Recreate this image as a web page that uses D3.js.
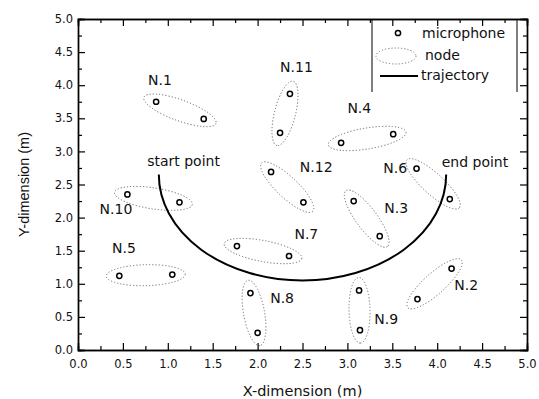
<!DOCTYPE html>
<html>
<head>
<meta charset="utf-8">
<script src="https://cdn.jsdelivr.net/npm/d3@7"></script>
<style>
  body { margin: 0; background: #fff; }
  svg { display: block; }
  .axis path, .axis line { stroke: #000; }
  .axis text { font-family: "DejaVu Sans", sans-serif; font-size: 11.5px; fill: #111; }
</style>
</head>
<body>
<svg id="chart" width="539" height="399"></svg>
<script>
// microphone pairs, one per node (x, y in metres)
var nodes = ['N.1', 'N.2', 'N.3', 'N.4', 'N.5', 'N.6', 'N.7', 'N.8', 'N.9', 'N.10', 'N.11', 'N.12'];
var micA = [[0.87, 3.75], [3.78, 0.77], [3.07, 2.25], [2.93, 3.13], [0.46, 1.12], [3.77, 2.74],
            [1.77, 1.57], [1.92, 0.86], [3.13, 0.90], [0.55, 2.35], [2.36, 3.87], [2.15, 2.69]];
var micB = [[1.40, 3.49], [4.16, 1.23], [3.36, 1.72], [3.51, 3.26], [1.05, 1.14], [4.14, 2.28],
            [2.35, 1.42], [2.00, 0.26], [3.14, 0.30], [1.13, 2.23], [2.25, 3.28], [2.51, 2.23]];
// where each node label sits (left edge, baseline)
var labelPos = [[0.78, 4.00], [4.19, 0.91], [3.41, 2.07], [3.00, 3.58], [0.38, 1.47], [3.40, 2.68],
                [2.41, 1.68], [2.14, 0.71], [3.30, 0.39], [0.24, 2.06], [2.25, 4.20], [2.47, 2.69]];

// trajectory: half circle from start to end
var trajStart = [0.90, 2.65];
var trajEnd = [4.10, 2.65];
var trajRadius = 1.6;
var pointNames = ['start point', 'end point'];
var pointLabelPos = [[0.77, 2.78], [4.05, 2.77]];

var majorTicks = [0, 0.5, 1, 1.5, 2, 2.5, 3, 3.5, 4, 4.5, 5];
var minorTicks = [0.25, 0.75, 1.25, 1.75, 2.25, 2.75, 3.25, 3.75, 4.25, 4.75];

var svg = d3.select('#chart');
var margin = {top: 19, right: 12, bottom: 49, left: 78};
var w = 539 - margin.left - margin.right;
var h = 399 - margin.top - margin.bottom;

var x = d3.scaleLinear().domain([0, 5]).range([0, w]);
var y = d3.scaleLinear().domain([0, 5]).range([h, 0]);

var g = svg.append('g').attr('transform', 'translate(' + margin.left + ',' + margin.top + ')');

// node ellipses (dotted), drawn in pixel space around each mic pair
var pad = 13, semiMinor = 10.5;
nodes.forEach(function(n, i) {
  var ax = x(micA[i][0]), ay = y(micA[i][1]);
  var bx = x(micB[i][0]), by = y(micB[i][1]);
  var cx = (ax + bx) / 2, cy = (ay + by) / 2;
  var dist = Math.sqrt((bx - ax) * (bx - ax) + (by - ay) * (by - ay));
  var ang = Math.atan2(by - ay, bx - ax) * 180 / Math.PI;
  g.append('ellipse')
    .attr('cx', 0).attr('cy', 0)
    .attr('rx', dist / 2 + pad).attr('ry', semiMinor)
    .attr('transform', 'translate(' + cx + ',' + cy + ') rotate(' + ang + ')')
    .attr('fill', 'none')
    .attr('stroke', '#666')
    .attr('stroke-width', 0.9)
    .attr('stroke-dasharray', '1.2,2');
});

// trajectory
var rx = x(trajRadius) - x(0), ry = y(0) - y(trajRadius);
g.append('path')
  .attr('d', 'M' + x(trajStart[0]) + ',' + y(trajStart[1]) +
             ' A' + rx + ',' + ry + ' 0 0 0 ' + x(trajEnd[0]) + ',' + y(trajEnd[1]))
  .attr('fill', 'none')
  .attr('stroke', '#000')
  .attr('stroke-width', 2);

// microphones
var mics = micA.concat(micB);
g.selectAll('circle.mic')
  .data(mics)
  .enter()
  .append('circle')
  .attr('class', 'mic')
  .attr('cx', function(d) { return x(d[0]); })
  .attr('cy', function(d) { return y(d[1]); })
  .attr('r', 2.6)
  .attr('fill', '#fff')
  .attr('stroke', '#000')
  .attr('stroke-width', 1.5);

// labels
g.selectAll('text.node')
  .data(nodes)
  .enter()
  .append('text')
  .attr('class', 'node')
  .attr('x', function(d, i) { return x(labelPos[i][0]); })
  .attr('y', function(d, i) { return y(labelPos[i][1]); })
  .style('font-family', '"DejaVu Sans", sans-serif')
  .style('font-size', '14px')
  .style('fill', '#111')
  .text(function(d) { return d; });

g.selectAll('text.pt')
  .data(pointNames)
  .enter()
  .append('text')
  .attr('class', 'pt')
  .attr('x', function(d, i) { return x(pointLabelPos[i][0]); })
  .attr('y', function(d, i) { return y(pointLabelPos[i][1]); })
  .style('font-family', '"DejaVu Sans", sans-serif')
  .style('font-size', '14px')
  .style('fill', '#111')
  .text(function(d) { return d; });

// axes, ticks pointing inward
function fmt(d) { return d3.format('.1f')(d); }
g.append('g').attr('class', 'axis').attr('transform', 'translate(0,' + h + ')')
  .call(d3.axisBottom(x).tickValues(majorTicks).tickFormat(fmt).tickSize(-7).tickPadding(10));
g.append('g').attr('class', 'axis').attr('transform', 'translate(0,' + h + ')')
  .call(d3.axisBottom(x).tickValues(minorTicks).tickFormat('').tickSize(-4));
g.append('g').attr('class', 'axis')
  .call(d3.axisTop(x).tickValues(majorTicks).tickFormat('').tickSize(-7));
g.append('g').attr('class', 'axis')
  .call(d3.axisTop(x).tickValues(minorTicks).tickFormat('').tickSize(-4));
g.append('g').attr('class', 'axis')
  .call(d3.axisLeft(y).tickValues(majorTicks).tickFormat(fmt).tickSize(-7).tickPadding(5));
g.append('g').attr('class', 'axis')
  .call(d3.axisLeft(y).tickValues(minorTicks).tickFormat('').tickSize(-4));
g.append('g').attr('class', 'axis').attr('transform', 'translate(' + w + ',0)')
  .call(d3.axisRight(y).tickValues(majorTicks).tickFormat('').tickSize(-7));
g.append('g').attr('class', 'axis').attr('transform', 'translate(' + w + ',0)')
  .call(d3.axisRight(y).tickValues(minorTicks).tickFormat('').tickSize(-4));
g.selectAll('.axis path').attr('stroke-width', 1.4);
g.selectAll('.axis line').attr('stroke-width', 1.2);

// axis titles
svg.append('text')
  .attr('x', margin.left + w / 2).attr('y', 396)
  .attr('text-anchor', 'middle')
  .style('font-family', '"DejaVu Sans", sans-serif')
  .style('font-size', '14.5px')
  .style('fill', '#111')
  .text('X-dimension (m)');
svg.append('text')
  .attr('transform', 'translate(29,' + (margin.top + h / 2) + ') rotate(-90)')
  .attr('text-anchor', 'middle')
  .style('font-family', '"Liberation Sans", Arial, sans-serif')
  .style('font-size', '14.5px')
  .style('fill', '#111')
  .text('Y-dimension (m)');

// legend
var lg = svg.append('g');
lg.append('line').attr('x1', 372).attr('x2', 372).attr('y1', margin.top).attr('y2', 92)
  .attr('stroke', '#000').attr('stroke-width', 1);
lg.append('line').attr('x1', 517).attr('x2', 517).attr('y1', margin.top).attr('y2', 92)
  .attr('stroke', '#000').attr('stroke-width', 1);
lg.append('circle').attr('cx', 398).attr('cy', 33).attr('r', 2.6)
  .attr('fill', '#fff').attr('stroke', '#000').attr('stroke-width', 1.5);
lg.append('ellipse').attr('cx', 396).attr('cy', 56).attr('rx', 20).attr('ry', 8)
  .attr('fill', 'none').attr('stroke', '#666').attr('stroke-width', 0.9)
  .attr('stroke-dasharray', '1.2,2');
lg.append('line').attr('x1', 380).attr('x2', 418).attr('y1', 76).attr('y2', 76)
  .attr('stroke', '#000').attr('stroke-width', 2);
var legendText = [['microphone', 422, 38], ['node', 425, 60], ['trajectory', 421, 80]];
lg.selectAll('text')
  .data(legendText)
  .enter()
  .append('text')
  .attr('x', function(d) { return d[1]; })
  .attr('y', function(d) { return d[2]; })
  .style('font-family', '"DejaVu Sans", sans-serif')
  .style('font-size', '14px')
  .style('fill', '#111')
  .text(function(d) { return d[0]; });
</script>
</body>
</html>
